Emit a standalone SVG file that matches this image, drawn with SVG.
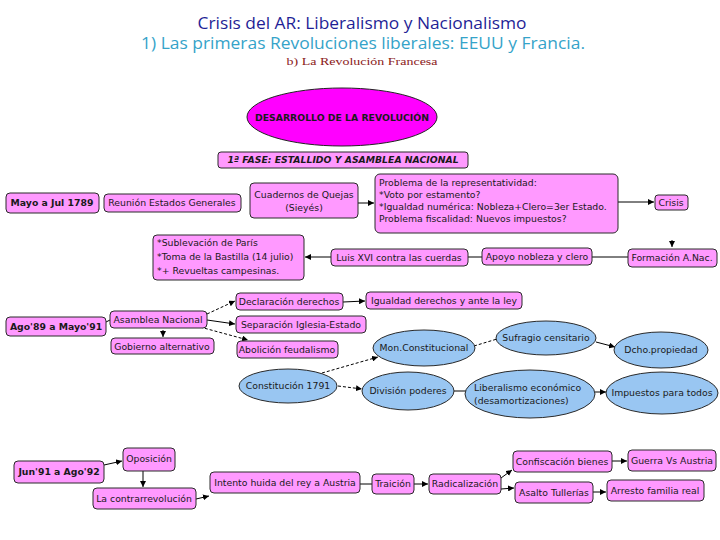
<svg xmlns="http://www.w3.org/2000/svg" width="720" height="540" viewBox="0 0 720 540">
<style>
.n{fill:#ff99ff;stroke:#2a2a2a;stroke-width:1}
.e{fill:#99c6f2;stroke:#2a2a2a;stroke-width:1}
.t{font-family:"DejaVu Sans",Verdana,sans-serif;font-size:9.3px;fill:#1a1a1a;text-anchor:middle}
.l{text-anchor:start}
.b{font-weight:bold}
.c{stroke:#000;stroke-width:1;fill:none}
.a{marker-end:url(#ah)}
.d{stroke-dasharray:3,2}
</style>
<defs>
<marker id="ah" markerWidth="6" markerHeight="6" refX="6" refY="3" orient="auto" markerUnits="userSpaceOnUse">
<path d="M0,0 L6,3 L0,6 z" fill="#000"/>
</marker>
</defs>
<rect width="720" height="540" fill="#fff"/>
<g id="title">
<text x="362" y="29" font-family="'Open Sans','Liberation Sans',sans-serif" font-size="16" fill="#1f1f96" text-anchor="middle" textLength="329" lengthAdjust="spacingAndGlyphs">Crisis del AR: Liberalismo y Nacionalismo</text>
<text x="363" y="49" font-family="'Open Sans','Liberation Sans',sans-serif" font-size="15.5" fill="#35a3c9" text-anchor="middle" textLength="444" lengthAdjust="spacingAndGlyphs">1) Las primeras Revoluciones liberales: EEUU y Francia.</text>
<text x="362" y="65" font-family="'Liberation Serif',serif" font-size="11" fill="#8b1a1a" text-anchor="middle" textLength="151" lengthAdjust="spacingAndGlyphs">b) La Revolución Francesa</text>
</g>
<g id="connectors">
<line class="c a" x1="358" y1="203" x2="374" y2="203"/>
<line class="c a" x1="618" y1="202" x2="654" y2="202"/>
<line class="c a" x1="672" y1="240" x2="672" y2="247"/>
<line class="c a" x1="331" y1="257" x2="305" y2="257"/>
<line class="c" x1="468" y1="257" x2="482" y2="257"/>
<line class="c" x1="592" y1="257" x2="628" y2="257"/>
<line class="c" x1="106" y1="322" x2="110" y2="320"/>
<line class="c a" x1="163" y1="330" x2="163" y2="337"/>
<line class="c a d" x1="207" y1="314" x2="235" y2="301"/>
<line class="c a" x1="207" y1="320" x2="235" y2="324"/>
<line class="c a d" x1="200" y1="327" x2="248" y2="340"/>
<line class="c a" x1="343" y1="302" x2="365" y2="301"/>
<line class="c a d" x1="322" y1="373" x2="378" y2="357"/>
<line class="c a d" x1="338" y1="386" x2="362" y2="389"/>
<line class="c d" x1="474" y1="346" x2="497" y2="339"/>
<line class="c a" x1="596" y1="342" x2="615" y2="347"/>
<line class="c" x1="454" y1="391" x2="466" y2="391"/>
<line class="c a" x1="595" y1="392" x2="606" y2="392"/>
<line class="c a" x1="104" y1="465" x2="122" y2="461"/>
<line class="c a" x1="143" y1="471" x2="143" y2="487"/>
<line class="c a" x1="196" y1="499" x2="209" y2="496"/>
<line class="c" x1="360" y1="484" x2="372" y2="484"/>
<line class="c a" x1="414" y1="484" x2="428" y2="484"/>
<line class="c a" x1="501" y1="478" x2="512" y2="470"/>
<line class="c a" x1="501" y1="489" x2="514" y2="488"/>
<line class="c a" x1="612" y1="461" x2="627" y2="461"/>
<line class="c a" x1="593" y1="492" x2="606" y2="492"/>
</g>
<g id="desarrollo"><ellipse cx="342" cy="117" rx="95" ry="29" fill="#ff00ff" stroke="#222"/><text class="t b" x="342" y="121" fill="#3a003a">DESARROLLO DE LA REVOLUCIÓN</text></g>
<g id="fase1"><rect class="n" x="218" y="152" width="250" height="16" rx="3"/><text class="t b" x="343" y="163" font-style="italic">1ª FASE: ESTALLIDO Y ASAMBLEA NACIONAL</text></g>
<g id="mayo"><rect class="n" x="6" y="193" width="93" height="20" rx="4"/><text class="t b" x="52" y="206">Mayo a Jul 1789</text></g>
<g id="reunion"><rect class="n" x="104" y="194" width="137" height="18" rx="4"/><text class="t" x="172" y="206">Reunión Estados Generales</text></g>
<g id="cuadernos"><rect class="n" x="250" y="183" width="108" height="35" rx="4"/><text class="t" x="304" y="198">Cuadernos de Quejas</text><text class="t" x="304" y="211">(Sieyés)</text></g>
<g id="problema"><rect class="n" x="375" y="174" width="243" height="59" rx="5"/>
<text class="t l" x="379" y="186">Problema de la representatividad:</text>
<text class="t l" x="379" y="198">*Voto por estamento?</text>
<text class="t l" x="379" y="210">*Igualdad numérica: Nobleza+Clero=3er Estado.</text>
<text class="t l" x="379" y="222">Problema fiscalidad: Nuevos impuestos?</text></g>
<g id="crisis"><rect class="n" x="655" y="195" width="33" height="15" rx="3"/><text class="t" x="671" y="206">Crisis</text></g>
<g id="sublevacion"><rect class="n" x="153" y="235" width="151" height="45" rx="4"/>
<text class="t l" x="157" y="246">*Sublevación de París</text>
<text class="t l" x="157" y="260">*Toma de la Bastilla (14 julio)</text>
<text class="t l" x="157" y="274">*+ Revueltas campesinas.</text></g>
<g id="luis"><rect class="n" x="331" y="249" width="137" height="17" rx="4"/><text class="t" x="399" y="261">Luis XVI contra las cuerdas</text></g>
<g id="apoyo"><rect class="n" x="482" y="248" width="110" height="17" rx="4"/><text class="t" x="537" y="260">Apoyo nobleza y clero</text></g>
<g id="formacion"><rect class="n" x="628" y="249" width="89" height="18" rx="4"/><text class="t" x="672" y="261">Formación A.Nac.</text></g>
<g id="ago89"><rect class="n" x="6" y="317" width="100" height="19" rx="4"/><text class="t b" x="56" y="330">Ago'89 a Mayo'91</text></g>
<g id="asamblea"><rect class="n" x="110" y="311" width="97" height="17" rx="4"/><text class="t" x="158" y="323">Asamblea Nacional</text></g>
<g id="gobierno"><rect class="n" x="111" y="338" width="103" height="16" rx="4"/><text class="t" x="162" y="350">Gobierno alternativo</text></g>
<g id="declaracion"><rect class="n" x="236" y="293" width="107" height="17" rx="4"/><text class="t" x="289" y="305">Declaración derechos</text></g>
<g id="separacion"><rect class="n" x="236" y="316" width="130" height="17" rx="4"/><text class="t" x="301" y="328">Separación Iglesia-Estado</text></g>
<g id="abolicion"><rect class="n" x="237" y="341" width="101" height="17" rx="4"/><text class="t" x="287" y="353">Abolición feudalismo</text></g>
<g id="igualdad"><rect class="n" x="366" y="292" width="156" height="17" rx="4"/><text class="t" x="444" y="304">Igualdad derechos y ante la ley</text></g>
<g id="moncons"><ellipse class="e" cx="424" cy="348" rx="51" ry="18"/><text class="t" x="424" y="351">Mon.Constitucional</text></g>
<g id="sufragio"><ellipse class="e" cx="546" cy="338" rx="50" ry="17"/><text class="t" x="546" y="341">Sufragio censitario</text></g>
<g id="dcho"><ellipse class="e" cx="661" cy="350" rx="47" ry="18"/><text class="t" x="661" y="353">Dcho.propiedad</text></g>
<g id="constitucion"><ellipse class="e" cx="288" cy="386" rx="49" ry="17"/><text class="t" x="288" y="389">Constitución 1791</text></g>
<g id="division"><ellipse class="e" cx="408" cy="391" rx="46" ry="19"/><text class="t" x="408" y="394">División poderes</text></g>
<g id="liberalismo"><ellipse class="e" cx="530" cy="394" rx="65" ry="24"/><text class="t l" x="474" y="391">Liberalismo económico</text><text class="t l" x="474" y="404">(desamortizaciones)</text></g>
<g id="impuestos"><ellipse class="e" cx="662" cy="393" rx="56" ry="21"/><text class="t" x="662" y="396">Impuestos para todos</text></g>
<g id="jun91"><rect class="n" x="14" y="461" width="90" height="22" rx="4"/><text class="t b" x="59" y="475">Jun'91 a Ago'92</text></g>
<g id="oposicion"><rect class="n" x="123" y="448" width="52" height="23" rx="4"/><text class="t" x="149" y="462">Oposición</text></g>
<g id="contrarrevolucion"><rect class="n" x="93" y="488" width="103" height="21" rx="4"/><text class="t" x="144" y="502">La contrarrevolución</text></g>
<g id="intento"><rect class="n" x="210" y="472" width="150" height="21" rx="4"/><text class="t" x="285" y="486">Intento huida del rey a Austria</text></g>
<g id="traicion"><rect class="n" x="372" y="474" width="42" height="20" rx="4"/><text class="t" x="393" y="487">Traición</text></g>
<g id="radicalizacion"><rect class="n" x="429" y="474" width="72" height="20" rx="4"/><text class="t" x="465" y="487">Radicalización</text></g>
<g id="confiscacion"><rect class="n" x="513" y="451" width="99" height="21" rx="4"/><text class="t" x="562" y="465">Confiscación bienes</text></g>
<g id="guerra"><rect class="n" x="628" y="450" width="88" height="21" rx="4"/><text class="t" x="672" y="464">Guerra Vs Austria</text></g>
<g id="asalto"><rect class="n" x="515" y="482" width="78" height="21" rx="4"/><text class="t" x="554" y="496">Asalto Tullerías</text></g>
<g id="arresto"><rect class="n" x="607" y="480" width="97" height="21" rx="4"/><text class="t" x="655" y="494">Arresto familia real</text></g>
</svg>
